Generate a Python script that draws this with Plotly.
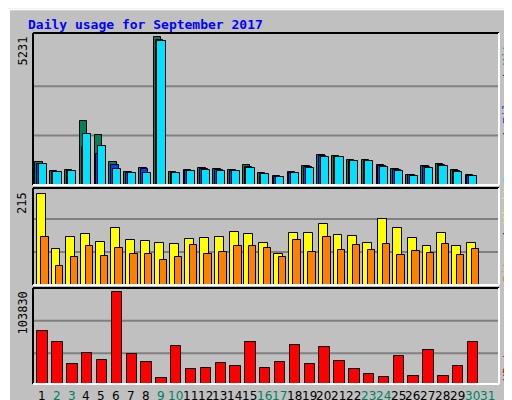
import plotly.graph_objects as go

days = list(range(1, 32))
hits = [820,500,530,2280,1780,820,460,600,5231,460,530,600,570,530,710,430,320,460,680,1070,1030,890,890,710,570,360,680,750,530,360,0]
files = [760,470,500,1350,1100,700,430,560,5150,430,500,560,530,500,640,400,300,430,640,1040,1000,860,860,660,530,340,640,700,490,330,0]
pages = [740,460,490,1810,1390,580,410,440,5120,420,500,530,510,490,600,390,280,420,610,1000,980,850,850,650,500,330,620,660,460,320,0]
visits = [215,85,113,120,102,134,106,104,99,97,109,111,113,125,120,99,74,122,122,143,118,116,99,155,134,111,92,122,92,99,0]
sites = [113,46,67,92,69,88,74,74,60,65,95,74,79,92,92,88,67,106,79,113,83,95,83,97,72,81,76,97,72,85,0]
kbytes = [59800,47400,22600,35000,27100,103830,33800,24800,6800,42900,16900,18000,23700,20300,47400,18000,24800,44000,22600,41700,25900,16900,11300,7900,31600,9000,38400,9000,20300,47400,0]
weekend = {2,3,9,10,16,17,23,24,30,31}
title = "Daily usage for September 2017"

F = "DejaVu Sans Mono"
fig = go.Figure()
def bar(y, color, off, w, ax):
    fig.add_trace(go.Bar(x=days, y=y, marker=dict(color=color, line=dict(color="black", width=1)),
                         offset=off, width=w, xaxis="x", yaxis=ax, showlegend=False))
bar(hits, "#00805C", -0.45, 0.5, "y")
bar(files, "#0040FF", -0.33, 0.5, "y")
bar(pages, "#00E0FF", -0.22, 0.55, "y")
bar(visits, "#FFFF00", -0.35, 0.6, "y2")
bar(sites, "#FF8000", -0.05, 0.5, "y2")
bar(kbytes, "#FF0000", -0.3, 0.7, "y4")

xd = [25/512, 491/512]
doms = {"y": [(400-177)/400, (400-25)/400], "y2": [(400-277)/400, (400-180)/400], "y4": [(400-376)/400, (400-280)/400]}
maxes = {"y": 5231*1.03, "y2": 215*1.065, "y4": 103830*1.045}
layout = dict(width=512, height=400, margin=dict(l=0, r=0, t=0, b=0),
              paper_bgcolor="#C0C0C0", plot_bgcolor="#C0C0C0", barmode="overlay", bargap=0,
              font=dict(family=F, size=12, color="black"),
              xaxis=dict(domain=xd, range=[0.4, 31.8], showticklabels=False, showgrid=False,
                         anchor="y4", ticks="", fixedrange=True))
for ax in ["y", "y2", "y4"]:
    key = "yaxis" if ax == "y" else "yaxis" + ax[1:]
    layout[key] = dict(domain=doms[ax], range=[0, maxes[ax]], showticklabels=False, showgrid=False,
                       zeroline=False, anchor="x")
fig.update_layout(**layout)

shapes = []
shapes.append(dict(type="rect", xref="paper", yref="paper", x0=0.002, x1=0.998, y0=0.003, y1=0.997, line=dict(color="white", width=2)))
shapes.append(dict(type="rect", xref="paper", yref="paper", x0=0.988, x1=1, y0=0, y1=1, line=dict(width=0), fillcolor="#808080"))
shapes.append(dict(type="rect", xref="paper", yref="paper", x0=0, x1=1, y0=0, y1=0.008, line=dict(width=0), fillcolor="#808080"))
grids = {"y": [0.325, 0.65], "y2": [0.34, 0.68], "y4": [0.32, 0.66]}
for ax in ["y", "y2", "y4"]:
    yd = ax + " domain"
    for f in grids[ax]:
        shapes.append(dict(type="line", xref="x domain", yref=yd, x0=0, x1=1, y0=f, y1=f, line=dict(color="#808080", width=2), layer="below"))
    d = doms[ax]
    shapes.append(dict(type="line", xref="paper", yref="paper", x0=xd[0], x1=xd[1], y0=d[1], y1=d[1], line=dict(color="black", width=2)))
    shapes.append(dict(type="line", xref="paper", yref="paper", x0=xd[0], x1=xd[0], y0=d[0], y1=d[1], line=dict(color="black", width=2)))
    shapes.append(dict(type="line", xref="paper", yref="paper", x0=xd[0], x1=xd[1], y0=d[0], y1=d[0], line=dict(color="white", width=2)))
    shapes.append(dict(type="line", xref="paper", yref="paper", x0=xd[1], x1=xd[1], y0=d[0], y1=d[1], line=dict(color="white", width=2)))
fig.update_layout(shapes=shapes)

ann = [dict(text=f"<b>{title}</b>", xref="paper", yref="paper", x=18/512, y=1-16/400, xanchor="left", yanchor="middle",
            showarrow=False, font=dict(color="#0000FF", size=13, family=F))]
for d in days:
    ann.append(dict(text=str(d), xref="x", yref="paper", x=d, y=1-388/400, xanchor="center", yanchor="middle",
                    showarrow=False, font=dict(size=12, family="DejaVu Sans", color="#008060" if d in weekend else "black")))
for ax, lab in [("y", "5231"), ("y2", "215"), ("y4", "103830")]:
    ann.append(dict(text=lab, xref="paper", yref="paper", x=14/512, y=doms[ax][1]-0.005, xanchor="center", yanchor="top",
                    textangle=-90, showarrow=False, font=dict(size=12, family=F)))
right = [("y", [("Pages", "#00E0FF"), (" / ", "black"), ("Files", "#0040FF"), (" / ", "black"), ("Hits", "#00805C")]),
         ("y2", [("Sites", "#FF8000"), (" / ", "black"), ("Visits", "#FFFF00")]),
         ("y4", [("KBytes", "#FF0000")])]
for ax, parts in right:
    # stack parts from bottom upward
    y0 = doms[ax][0] + 0.005
    for txt, col in parts:
        h = len(txt) * 7.3 / 400
        ann.append(dict(text=txt.replace(" ", "&nbsp;"), xref="paper", yref="paper", x=500/512, y=y0 + h/2,
                        xanchor="center", yanchor="middle", textangle=-90, showarrow=False,
                        font=dict(size=12, family=F, color=col)))
        y0 += h
fig.update_layout(annotations=ann)
fig.write_html("out.html")
